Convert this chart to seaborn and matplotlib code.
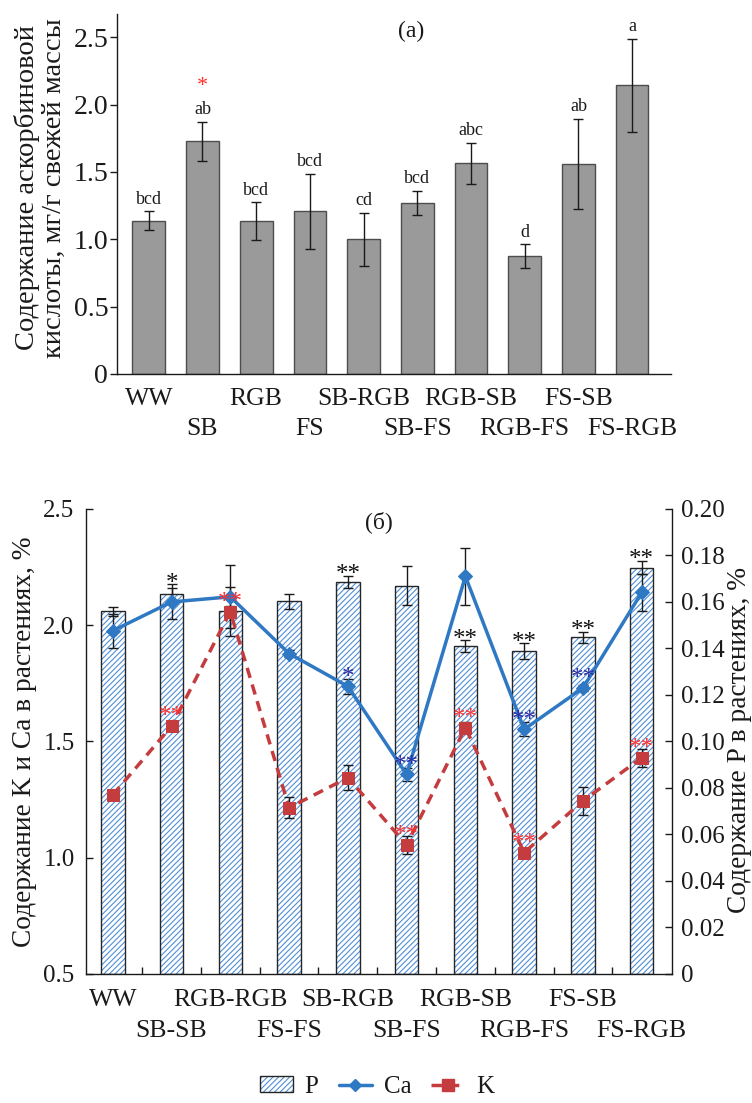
import numpy as np
import matplotlib
matplotlib.use("Agg")
import matplotlib.pyplot as plt
import seaborn as sns
from matplotlib.patches import Patch
from matplotlib.lines import Line2D
from matplotlib.legend_handler import HandlerTuple

# ---------------- data: panel (a) ----------------
cats_a = ['WW', 'SB', 'RGB', 'FS', 'SB-RGB', 'SB-FS', 'RGB-SB', 'RGB-FS', 'FS-SB', 'FS-RGB']
asc = [1.137, 1.726, 1.132, 1.209, 0.999, 1.269, 1.563, 0.873, 1.558, 2.142]
asc_err = [0.070, 0.146, 0.141, 0.278, 0.198, 0.091, 0.154, 0.088, 0.336, 0.346]
asc_letters = ['bcd', 'ab', 'bcd', 'bcd', 'cd', 'bcd', 'abc', 'd', 'ab', 'a']
asc_stars = ['', '*', '', '', '', '', '', '', '', '']
yticks_a = [0, 0.5, 1.0, 1.5, 2.0, 2.5]
yticklabels_a = ['0', '0.5', '1.0', '1.5', '2.0', '2.5']

# ---------------- data: panel (б) ----------------
cats_b = ['WW', 'SB-SB', 'RGB-RGB', 'FS-FS', 'SB-RGB', 'SB-FS', 'RGB-SB', 'RGB-FS', 'FS-SB', 'FS-RGB']
p_val = [0.1559, 0.1632, 0.1562, 0.1602, 0.1685, 0.1670, 0.1409, 0.1389, 0.1448, 0.1748]
p_err = [0.0021, 0.0027, 0.0020, 0.0031, 0.0027, 0.0084, 0.0026, 0.0033, 0.0024, 0.0029]
ca_val = [1.976, 2.100, 2.122, 1.878, 1.737, 1.358, 2.210, 1.552, 1.730, 2.141]
ca_err = [0.073, 0.075, 0.135, 0.017, 0.032, 0.029, 0.122, 0.030, 0.014, 0.079]
k_val = [1.270, 1.566, 2.058, 1.215, 1.344, 1.055, 1.559, 1.022, 1.244, 1.430]
k_err = [0.0, 0.010, 0.105, 0.045, 0.054, 0.040, 0.024, 0.012, 0.059, 0.039]
p_stars = ['', '*', '', '', '**', '', '**', '**', '**', '**']
ca_stars = ['', '', '', '', '*', '**', '', '**', '**', '']
k_stars = ['', '**', '**', '', '', '**', '**', '**', '', '**']
yticks_l = [0.5, 1.0, 1.5, 2.0, 2.5]
yticklabels_l = ['0.5', '1.0', '1.5', '2.0', '2.5']
yticks_r = [0, 0.02, 0.04, 0.06, 0.08, 0.10, 0.12, 0.14, 0.16, 0.18, 0.20]
yticklabels_r = ['0', '0.02', '0.04', '0.06', '0.08', '0.10', '0.12', '0.14', '0.16', '0.18', '0.20']

# ---------------- style ----------------
sns.set_style('ticks')
plt.rcParams['font.family'] = ['Liberation Serif', 'DejaVu Serif']
plt.rcParams['hatch.linewidth'] = 0.8
plt.rcParams['axes.edgecolor'] = '#1a1a1a'
plt.rcParams['xtick.color'] = '#1a1a1a'
plt.rcParams['ytick.color'] = '#1a1a1a'
plt.rcParams['text.color'] = '#1a1a1a'

GRAY = '#9a9a9a'
HATCH_BLUE = '#4f8fd6'
CA_BLUE = '#2f78c4'
K_RED = '#c43c3e'
STAR_RED = '#ff3030'
STAR_NAVY = '#2b2ba0'
XLAB_FS = 18.5

fig = plt.figure(figsize=(7.52, 11.03), dpi=100)


def two_row_labels(axis, cats, pad1, pad2):
    pos = np.arange(len(cats))
    axis.set_xticks(pos[0::2], labels=cats[0::2])
    axis.set_xticks(pos[1::2], labels=cats[1::2], minor=True)
    axis.tick_params(axis='x', which='major', length=0, pad=pad1, labelsize=XLAB_FS)
    axis.tick_params(axis='x', which='minor', length=0, pad=pad2, labelsize=XLAB_FS)


# ================= panel (a) =================
axA = fig.add_axes([0.155, 0.661, 0.737, 0.326])
sns.barplot(x=cats_a, y=asc, ax=axA, color=GRAY, saturation=1, width=0.61,
            edgecolor='#4d4d4d', linewidth=1.0, errorbar=None)
pos_a = np.arange(len(cats_a))
axA.errorbar(pos_a, asc, yerr=asc_err, fmt='none', ecolor='#1a1a1a',
             elinewidth=1.0, capsize=3.5, capthick=1.0, zorder=4)
for i in range(len(cats_a)):
    top = asc[i] + asc_err[i]
    axA.annotate(asc_letters[i], xy=(i, top), xytext=(0, 5.5), textcoords='offset points',
                 ha='center', va='baseline', fontsize=13)
    if asc_stars[i]:
        axA.annotate(asc_stars[i], xy=(i, top), xytext=(0, 22), textcoords='offset points',
                     ha='center', va='baseline', fontsize=16, color=STAR_RED)
axA.set_xlim(-0.6, 9.72)
axA.set_ylim(0, 2.67)
axA.set_yticks(yticks_a)
axA.set_yticklabels(yticklabels_a, fontsize=20)
two_row_labels(axA, cats_a, 10, 32)
axA.tick_params(axis='y', direction='out', length=5, width=1, pad=1)
axA.set_xlabel('')
axA.set_ylabel('')
for s in ['top', 'right']:
    axA.spines[s].set_visible(False)
for s in ['left', 'bottom']:
    axA.spines[s].set_linewidth(1.0)
axA.text(0.531, 0.953, '(a)', transform=axA.transAxes, ha='center', va='center', fontsize=17)

fig.text(40 / 752, 1 - 188 / 1103, 'Содержание аскорбиновой\nкислоты, мг/г свежей массы',
         rotation=90, ha='center', va='center', fontsize=20.5, linespacing=1.1,
         multialignment='center')

# ================= panel (б) =================
ax = fig.add_axes([0.114, 0.117, 0.780, 0.4216])
axP = ax.twinx()
ax.set_zorder(axP.get_zorder() + 1)
ax.patch.set_visible(False)

pos_b = np.arange(len(cats_b))
# hatched P bars (right axis)
sns.barplot(x=cats_b, y=p_val, ax=axP, color='white', saturation=1, width=0.4,
            hatch='//////', edgecolor=HATCH_BLUE, linewidth=0.0, errorbar=None)
sns.barplot(x=cats_b, y=p_val, ax=axP, color='#262626', saturation=1, width=0.4,
            fill=False, linewidth=1.0, errorbar=None)
axP.errorbar(pos_b, p_val, yerr=p_err, fmt='none', ecolor='#1a1a1a',
             elinewidth=1.0, capsize=3.5, capthick=1.0, zorder=4)

# Ca and K lines (left axis)
ax.errorbar(pos_b, ca_val, yerr=ca_err, fmt='none', ecolor='#1a1a1a',
            elinewidth=1.0, capsize=3.5, capthick=1.0, zorder=2)
ax.errorbar(pos_b, k_val, yerr=k_err, fmt='none', ecolor='#1a1a1a',
            elinewidth=1.0, capsize=3.5, capthick=1.0, zorder=2)
sns.lineplot(x=pos_b, y=ca_val, ax=ax, color=CA_BLUE, linewidth=2.5, marker='D',
             markersize=7, markeredgecolor=CA_BLUE, sort=False, zorder=3)
sns.lineplot(x=pos_b, y=k_val, ax=ax, color=K_RED, linewidth=2.5, marker='s',
             markersize=9, markeredgecolor=K_RED, linestyle=(0, (3, 2)), sort=False, zorder=3)

# significance stars
for i in range(len(cats_b)):
    if p_stars[i]:
        anchor = p_val[i] + p_err[i]
        p_top_left = anchor * 10.0 + 0.5
        ca_lo, ca_hi = ca_val[i] - ca_err[i], ca_val[i] + ca_err[i]
        if ca_lo < p_top_left < ca_hi:
            anchor = max(anchor, (ca_hi - 0.5) / 10.0)
        axP.annotate(p_stars[i], xy=(i, anchor), xytext=(0, -4), textcoords='offset points',
                     ha='center', va='baseline', fontsize=18, color='#111111')
    if ca_stars[i]:
        ax.annotate(ca_stars[i], xy=(i, ca_val[i]), xytext=(0, 2), textcoords='offset points',
                    ha='center', va='baseline', fontsize=18, color=STAR_NAVY, zorder=6)
    if k_stars[i]:
        ax.annotate(k_stars[i], xy=(i, k_val[i]), xytext=(0, 2), textcoords='offset points',
                    ha='center', va='baseline', fontsize=18, color=STAR_RED, zorder=6)

ax.set_xlim(-0.46, 9.52)
ax.set_ylim(0.5, 2.5)
axP.set_ylim(0, 0.2)
ax.set_yticks(yticks_l)
ax.set_yticklabels(yticklabels_l, fontsize=18)
axP.set_yticks(yticks_r)
axP.set_yticklabels(yticklabels_r, fontsize=18)
two_row_labels(ax, cats_b, 11, 33)
# boundary ticks between groups
sec = ax.secondary_xaxis('bottom')
sec.set_xticks(np.arange(0.5, 9, 1))
sec.tick_params(axis='x', which='major', direction='in', length=5, width=1, labelbottom=False)
sec.tick_params(axis='x', which='minor', length=0)
sec.spines['bottom'].set_visible(False)
ax.tick_params(axis='y', direction='in', length=5, width=1, pad=8, right=False)
axP.tick_params(axis='y', direction='in', length=5, width=1, pad=6)
for a in (ax, axP):
    a.set_xlabel('')
    a.set_ylabel('')
    a.spines['top'].set_visible(False)
ax.spines['right'].set_visible(False)
axP.spines['left'].set_visible(False)
axP.spines['bottom'].set_visible(False)
axP.spines['right'].set_linewidth(1.0)
ax.spines['left'].set_linewidth(1.0)
ax.spines['bottom'].set_linewidth(1.0)
ax.text(0.50, 0.972, '(б)', transform=ax.transAxes, ha='center', va='center', fontsize=17)

fig.text(25 / 752, 1 - 742 / 1103, 'Содержание K и Ca в растениях, %',
         rotation=90, ha='center', va='center', fontsize=19.7)
fig.text(740 / 752, 1 - 740 / 1103, 'Содержание P в растениях, %',
         rotation=90, ha='center', va='center', fontsize=19.7)

# legend
h_p = (Patch(facecolor='white', edgecolor=HATCH_BLUE, hatch='//////', linewidth=0),
       Patch(facecolor='none', edgecolor='#262626', linewidth=1.0))
h_ca = Line2D([], [], color=CA_BLUE, linewidth=2.5, marker='D', markersize=6)
h_k = Line2D([], [], color=K_RED, linewidth=2.5, marker='s', markersize=8, linestyle=(0, (3, 2)))
fig.legend([h_p, h_ca, h_k], ['P', 'Ca', 'K'], loc='center',
           bbox_to_anchor=(377 / 752, 1 - 1087 / 1103), ncol=3, frameon=False,
           fontsize=18, handlelength=1.35, handleheight=0.6, handletextpad=0.45,
           columnspacing=0.8, handler_map={tuple: HandlerTuple(ndivide=1, pad=0)})

fig.savefig('out.png', dpi=100)
